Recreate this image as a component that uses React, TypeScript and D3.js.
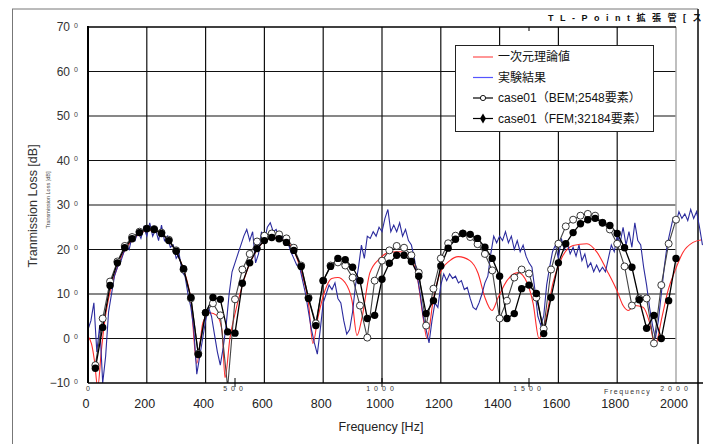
import React from 'react';
import * as d3 from 'd3';

// axis ticks
const xTicks = [0, 200, 400, 600, 800, 1000, 1200, 1400, 1600, 1800, 2000];
const yTicks = [-10, 0, 10, 20, 30, 40, 50, 60, 70];
const yTickLabels = ['−10', '0', '10', '20', '30', '40', '50', '60', '70'];

// 一次元理論値 (red)
const redFreq = [0, 12, 22, 33, 45, 55, 70, 85, 100, 125, 150, 175, 200, 225, 250, 275, 300, 325, 350, 370,
  391, 415, 438, 456, 466, 483, 500, 523, 545, 574, 602, 636, 670, 697, 724, 750, 765, 782, 806, 829,
  850, 874, 898, 915, 932, 959, 993, 1027, 1061, 1095, 1119, 1140, 1153, 1174, 1197, 1231, 1259, 1299, 1327, 1350,
  1374, 1395, 1425, 1463, 1493, 1514, 1534, 1554, 1582, 1612, 1650, 1697, 1731, 1765, 1799, 1820, 1837, 1860, 1888, 1911,
  1929, 1952, 1973, 1997, 2024, 2058, 2088];
const redVal = [0.5, -1.2, -5, -11, -3, 3, 9, 13, 16, 19.8, 22, 23.5, 24.2, 24.3, 23.5, 22, 19.5, 15.5, 8.5, -5.6,
  3.6, 5.8, 5.2, 1.8, -8.8, 0.2, 5.6, 11.5, 16, 19.8, 22, 22.7, 22, 20.2, 15.3, 7.9, -1.1, 4.7, 10.8, 13.5,
  13.7, 12.6, 8.5, 0.7, 4.7, 14.8, 18, 19.4, 19.5, 18.2, 14.2, 4.7, 0, 8.5, 14.6, 17.5, 18.4, 17.5, 14.6, 9.2,
  6.3, 9.2, 13, 14.8, 12.6, 7.9, 0, 3.4, 12.6, 18.2, 20.9, 21.3, 19.4, 15.3, 10.8, 7.4, 6.3, 7.4, 7, 3.4,
  -1.6, 4.7, 10.8, 15.3, 19.4, 21.6, 22.2];

// 実験結果 (blue), every 10 Hz from 0 Hz
const blueFreq = d3.range(0, 2100, 10);
const blueVal = [
  2, 4, 8, -3, 3, -10, -4, 6, 10, 14,
  16, 17, 19, 21, 20, 23, 22, 24, 22.5, 25,
  23, 26, 23, 24.5, 22, 25.5, 22, 23, 20.5, 21,
  18, 19, 15, 14, 10, 7, 2, -8, -4, 0,
  4, 7, 5, 1, -3, -6, -2, 3, 10, 15,
  17, 19, 21, 23, 24.5, 22, 24, 17, 19, 24,
  22, 25, 26, 24, 24.5, 22.5, 23, 21, 21.5, 19.5,
  18, 16.5, 16, 13, 10, 6, 2, -1, -3.5, 2,
  8, 10, 12, 11, 12.5, 9, 8, 4, 1, 2,
  6, 12, 16, 21, 18, 23, 22.5, 24, 23, 25,
  24, 27, 29, 24, 25.5, 24, 26, 23, 24.5, 22,
  21, 18, 14, 10, 5, 2, -1, 4, 8, 7,
  12, 14.5, 13, 14.5, 13.5, 14, 12.5, 13, 11, 11.5,
  9, 7, 6.5, 8, 10, 12.5, 14, 19, 23, 21.5,
  23, 22, 24, 21.5, 23, 20, 22, 19.5, 21, 18.5,
  17, 16, 11, 5, 3, 5, 12, 16, 19.5, 21,
  18, 22.5, 20, 21.5, 19, 20.5, 18.5, 21, 17.5, 19,
  16, 17, 15, 16.5, 15, 16, 15, 18, 21, 19.5,
  23, 21.5, 25, 21, 24, 20.5, 26, 22, 21, 16,
  12, 7, 3, 0, 4, 10, 16, 21, 24, 27,
  26, 28.5, 27, 28, 26.5, 29, 27, 28.5, 25, 21,
];

// case01 markers, every 25 Hz from 25 Hz
const caseFreq = d3.range(25, 2001, 25);
const bemVal = [
  -6, 4.5, 12.8, 17.3, 20.8, 22.8, 24, 24.7, 24.6, 23.8,
  22.2, 19.8, 15.5, 9, -3.4, 5.8, 7.9, 5.2, -11, 8.8,
  15.5, 19, 21.8, 23.1, 23.6, 23.4, 22.5, 20.4, 16.4, 9.2,
  3.4, 13, 16.4, 17.1, 16.4, 13.7, 7.4, 0.2, 13, 17.5,
  19.8, 20.8, 20.4, 18.7, 14.8, 2.9, 11.2, 18, 21.4, 23.1,
  23.6, 22.8, 21.2, 19, 15.3, 4.5, 8.5, 13.7, 15.5, 14.6,
  9.2, 2.2, 15.5, 21.3, 25.2, 26.7, 27.6, 28, 27.6, 26,
  24.5, 21.3, 16.2, 7.4, 9, 9, -1.1, 12, 21.3, 26.7,
];
const femVal = [
  -6.7, 2.5, 11.9, 17, 20.4, 22.4, 23.8, 24.7, 24.5, 23.6,
  22, 19.6, 15.7, 9.2, -3.6, 5.8, 9.2, 8.8, 1.5, 1.2,
  12.4, 17, 20.2, 22, 22.7, 22.4, 21.6, 19.8, 16.2, 9,
  2.9, 13, 16.2, 18, 17.7, 16, 13, 4.5, 5.2, 13.3,
  16.9, 18.7, 18.7, 17.3, 14, 5.6, 8.5, 16.3, 20.3, 22.3,
  23.6, 23.4, 22.5, 20.5, 18, 14, 4.5, 5.6, 11.2, 12,
  10.1, 1.1, 9.2, 17, 21.3, 23.8, 25.8, 26.7, 27, 26,
  25.4, 23.6, 20.4, 16, 8.7, 2.3, 5.2, 0, 8.5, 18,
];

const legendLabels = ['一次元理論値', '実験結果', 'case01（BEM;2548要素）', 'case01（FEM;32184要素）'];

const FONT = '"Liberation Sans", Arial, sans-serif';
const JFONT = '"Liberation Sans", Arial, "Noto Sans CJK JP", sans-serif';

export default function App() {
  const x = d3.scaleLinear().domain([0, 2000]).range([88, 676]);
  const y = d3.scaleLinear().domain([-10, 70]).range([383, 27]);

  const lineLin = d3.line<[number, number]>().x(d => x(d[0])).y(d => y(d[1]));
  const lineSmooth = d3.line<[number, number]>().x(d => x(d[0])).y(d => y(d[1])).curve(d3.curveMonotoneX);

  const red = redFreq.map((f, i) => [f, redVal[i]] as [number, number]);
  const blue = blueFreq.map((f, i) => [f, blueVal[i]] as [number, number]);
  const bem = caseFreq.map((f, i) => [f, bemVal[i]] as [number, number]);
  const fem = caseFreq.map((f, i) => [f, femVal[i]] as [number, number]);

  const left = x(0), gridRight = x(2000), top = y(70), bottom = y(-10);

  return (
    <svg width={707} height={444} style={{ position: 'absolute', left: 0, top: 0, background: '#fff' }}>
      <defs>
        <clipPath id="plot">
          <rect x={left} y={top} width={706 - left} height={bottom - top} />
        </clipPath>
      </defs>

      {/* outer frame */}
      <line x1={12} y1={9} x2={698} y2={9} stroke="#777" />
      <line x1={12.5} y1={9} x2={12.5} y2={444} stroke="#777" />
      <line x1={698} y1={9} x2={698} y2={444} stroke="#444" strokeWidth={2} />

      <text x={548} y={21} fontFamily={JFONT} fontSize={9} fontWeight="bold" letterSpacing={6.5} fill="#111">
        TL-Point拡張管[ス
      </text>

      {/* grid */}
      {yTicks.slice(1, -1).map(t => (
        <line key={'h' + t} x1={left} x2={gridRight} y1={y(t)} y2={y(t)} stroke="#111" strokeWidth={1.2} />
      ))}
      {xTicks.slice(1, -1).map(t => (
        <line key={'v' + t} x1={x(t)} x2={x(t)} y1={top} y2={bottom} stroke="#111" strokeWidth={1.2} />
      ))}
      <line x1={gridRight} x2={gridRight} y1={top} y2={bottom} stroke="#aaa" strokeWidth={1.5} />
      <line x1={left} x2={gridRight} y1={top} y2={top} stroke="#000" strokeWidth={1.5} />
      <line x1={x(1500)} x2={x(1500)} y1={top} y2={top + 4} stroke="#000" />

      {/* series */}
      <g clipPath="url(#plot)">
        <path d={lineSmooth(red) ?? ''} fill="none" stroke="#ff2a2a" strokeWidth={1.1} />
        <path d={lineLin(blue) ?? ''} fill="none" stroke="#2b2b9e" strokeWidth={1.1} />
        <path d={lineLin(bem) ?? ''} fill="none" stroke="#444" strokeWidth={1.1} />
        <path d={lineLin(fem) ?? ''} fill="none" stroke="#000" strokeWidth={1.3} />
        {bem.map((d, i) => (
          <circle key={'b' + i} cx={x(d[0])} cy={y(d[1])} r={3.5} fill="#fff" stroke="#222" strokeWidth={0.9} />
        ))}
        {fem.map((d, i) => (
          <circle key={'f' + i} cx={x(d[0])} cy={y(d[1])} r={3.7} fill="#000" />
        ))}
      </g>

      {/* axes */}
      <line x1={left} x2={left} y1={top - 1} y2={bottom} stroke="#000" strokeWidth={2} />
      <line x1={left} x2={703} y1={bottom} y2={bottom} stroke="#000" strokeWidth={1.5} />
      {[500, 1000, 1500].map(t => (
        <line key={'mt' + t} x1={x(t)} x2={x(t)} y1={bottom - 5} y2={bottom + 4} stroke="#000" strokeWidth={1} />
      ))}

      {yTicks.map((t, i) => (
        <g key={'yl' + t}>
          <text x={70} y={y(t)} dy="0.35em" textAnchor="end" fontFamily={FONT} fontSize={12} fill="#333">
            {yTickLabels[i]}
          </text>
          <text x={74} y={y(t)} dy="0.1em" fontFamily={FONT} fontSize={7} fill="#444">0</text>
        </g>
      ))}

      {xTicks.map(t => (
        <text key={'xl' + t} x={x(t) - 2} y={408} textAnchor="middle" fontFamily={FONT} fontSize={12.5} fill="#222">
          {t}
        </text>
      ))}

      {/* secondary axis remnants */}
      <text x={86} y={391} fontFamily={FONT} fontSize={7} fill="#333">0</text>
      {[500, 1000, 1500, 2000].map(t => (
        <text key={'sl' + t} x={x(t)} y={391} textAnchor="middle" fontFamily={FONT} fontSize={7}
          letterSpacing={4} fill="#333">
          {String(t)}
        </text>
      ))}
      <text x={604} y={394} fontFamily={FONT} fontSize={7} letterSpacing={1.6} fill="#333">Frequency</text>
      <text transform="translate(50,200) rotate(-90)" textAnchor="middle" fontFamily={FONT} fontSize={5.5}
        fill="#444">Transmission Loss [dB]</text>

      <text x={381} y={431} textAnchor="middle" fontFamily={FONT} fontSize={12.5} fill="#222">Frequency [Hz]</text>
      <text transform="translate(37,206) rotate(-90)" textAnchor="middle" fontFamily={FONT} fontSize={12.5}
        fill="#333">Tranmission Loss [dB]</text>

      {/* legend */}
      <rect x={455.5} y={45.5} width={198} height={86} fill="#fff" stroke="#222" />
      {legendLabels.map((lab, i) => {
        const ly = 57 + i * 20.5;
        const stroke = i === 0 ? '#ff5050' : i === 1 ? '#5555ff' : '#000';
        return (
          <g key={'lg' + i}>
            <line x1={473} x2={493} y1={ly} y2={ly} stroke={stroke} strokeWidth={1.2} />
            {i === 2 && <circle cx={483} cy={ly} r={2.6} fill="#fff" stroke="#000" strokeWidth={0.9} />}
            {i === 3 && <path d={d3.symbol(d3.symbolDiamond, 30)() ?? ''} transform={`translate(483,${ly})`} fill="#000" />}
            <text x={498} y={ly} dy="0.36em" fontFamily={JFONT} fontSize={12} fill="#111">{lab}</text>
          </g>
        );
      })}
    </svg>
  );
}
